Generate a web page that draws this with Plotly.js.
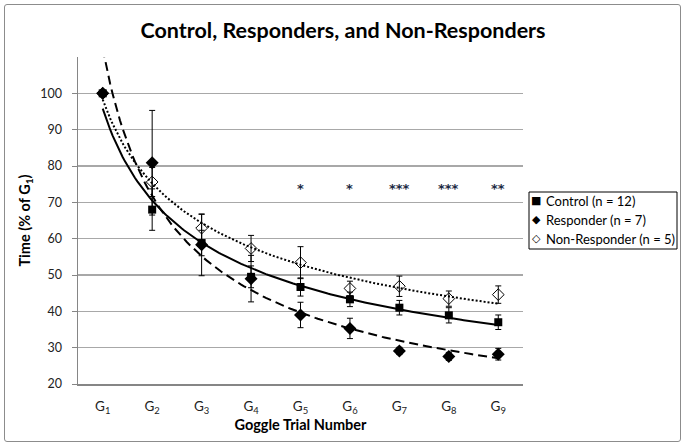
<!DOCTYPE html>
<html>
<head>
<meta charset="utf-8">
<script src="https://cdn.plot.ly/plotly-3.0.1.min.js"></script>
<style>
  html, body { margin: 0; padding: 0; background: #fff; }
  #wrap { position: relative; width: 686px; height: 447px; }
  #chart { width: 686px; height: 447px; }
  #frame { position: absolute; left: 4px; top: 4px; width: 677px; height: 438px;
           border: 1px solid #8c8c8c; border-radius: 3px; pointer-events: none; box-sizing: border-box; }
</style>
</head>
<body>
<div id="wrap"><div id="chart"></div><div id="frame"></div></div>
<script>
// ---- data ----
const trials = [1, 2, 3, 4, 5, 6, 7, 8, 9];
const trialLabels = ['G<sub>1</sub>', 'G<sub>2</sub>', 'G<sub>3</sub>', 'G<sub>4</sub>', 'G<sub>5</sub>',
                     'G<sub>6</sub>', 'G<sub>7</sub>', 'G<sub>8</sub>', 'G<sub>9</sub>'];

const seriesNames = ['Control (n = 12)', 'Responder (n = 7)', 'Non-Responder (n = 5)'];
const legendGlyphs = ['\u25A0', '\u25C6', '\u25C7'];

const control      = [100, 68.0, 58.8, 49.5, 46.7, 43.3, 41.0, 38.9, 37.0];
const controlErr   = [0, 5.7, 3.5, 3.0, 2.5, 2.0, 2.0, 2.1, 2.0];
const responder    = [100, 80.9, 58.3, 49.0, 39.0, 35.3, 29.1, 27.6, 28.2];
const responderErr = [0, 14.4, 8.5, 6.4, 3.5, 2.8, 1.0, 1.1, 1.6];
const nonResp      = [100, 75.6, 62.9, 57.3, 53.4, 46.3, 46.9, 43.5, 44.6];
const nonRespErr   = [0, 4.0, 3.8, 3.6, 4.4, 2.0, 2.8, 2.1, 2.4];

const sigLabels = ['', '', '', '', '*', '*', '***', '***', '**'];
const sigLevel = 75;

// ---- power trendlines (least squares on log-log, like a spreadsheet power trendline) ----
function powerFit(xs, ys) {
  const lx = xs.map(Math.log), ly = ys.map(Math.log);
  const n = xs.length;
  const mx = lx.reduce((a, b) => a + b, 0) / n;
  const my = ly.reduce((a, b) => a + b, 0) / n;
  let sxy = 0, sxx = 0;
  for (let i = 0; i < n; i++) { sxy += (lx[i] - mx) * (ly[i] - my); sxx += (lx[i] - mx) ** 2; }
  const b = sxy / sxx;
  const a = Math.exp(my - b * mx);
  return x => a * Math.pow(x, b);
}
function trend(ys) {
  const f = powerFit(trials, ys);
  const xs = [], out = [];
  const x0 = trials[0], x1 = trials[trials.length - 1];
  for (let i = 0; i <= 160; i++) { const x = x0 + (x1 - x0) * i / 160; xs.push(x); out.push(f(x)); }
  return { xs, out };
}
const tC = trend(control), tR = trend(responder), tN = trend(nonResp);

const FONT = 'Lato, "Open Sans", "DejaVu Sans", sans-serif';
const errStyle = (arr) => ({ type: 'data', array: arr, visible: true, color: '#000', thickness: 1, width: 3 });

const traces = [
  { x: tC.xs, y: tC.out, mode: 'lines', line: { color: '#000', width: 2 }, showlegend: false, hoverinfo: 'skip' },
  { x: tR.xs, y: tR.out, mode: 'lines', line: { color: '#000', width: 2, dash: '9px,5px' }, showlegend: false, hoverinfo: 'skip' },
  { x: tN.xs, y: tN.out, mode: 'lines', line: { color: '#000', width: 2, dash: '2px,2px' }, showlegend: false, hoverinfo: 'skip' },
  { x: trials, y: nonResp, name: seriesNames[2], mode: 'markers', error_y: errStyle(nonRespErr),
    marker: { symbol: 'diamond-open', size: 9, color: '#000', line: { width: 1, color: '#000' } }, showlegend: false },
  { x: trials, y: control, name: seriesNames[0], mode: 'markers', error_y: errStyle(controlErr),
    marker: { symbol: 'square', size: 8, color: '#000' }, showlegend: false },
  { x: trials, y: responder, name: seriesNames[1], mode: 'markers', error_y: errStyle(responderErr),
    marker: { symbol: 'diamond', size: 10, color: '#000' }, showlegend: false }
];

// legend built as a bordered box with text entries
const plotL = 78, plotR = 523, plotT = 57, plotB = 384;
const pw = plotR - plotL, ph = plotB - plotT;
const px = v => (v - plotL) / pw, py = v => (plotB - v) / ph;
const legendRows = [200.5, 219.5, 238.5];
const annotations = [];
seriesNames.forEach((name, i) => {
  annotations.push({ xref: 'paper', yref: 'paper', x: px(536), y: py(legendRows[i]), xanchor: 'center', yanchor: 'middle',
    text: legendGlyphs[i], showarrow: false, font: { family: '"DejaVu Sans", sans-serif', size: 11, color: '#000' } });
  annotations.push({ xref: 'paper', yref: 'paper', x: px(544), y: py(legendRows[i]), xanchor: 'left', yanchor: 'middle',
    text: name, showarrow: false, font: { family: FONT, size: 13, color: '#000' } });
});
// significance stars
trials.forEach((t, i) => {
  if (!sigLabels[i]) return;
  annotations.push({ xref: 'x', yref: 'y', x: t, y: sigLevel, xanchor: 'center', yanchor: 'middle', yshift: -4,
    text: '<b>' + sigLabels[i] + '</b>', showarrow: false,
    font: { family: '"DejaVu Sans", sans-serif', size: 13, color: '#1c2a44' } });
});

const layout = {
  width: 686, height: 447,
  margin: { l: plotL, r: 686 - plotR, t: plotT, b: 447 - plotB },
  paper_bgcolor: '#fff', plot_bgcolor: '#fff',
  font: { family: FONT, color: '#000' },
  title: { text: '<b>Control, Responders, and Non-Responders</b>', xref: 'container', x: 0.5, xanchor: 'center',
           yref: 'container', y: 1 - 30 / 447, yanchor: 'middle', font: { family: FONT, size: 21.5, color: '#000' } },
  xaxis: {
    range: [0.5, 9.5], tickmode: 'array', tickvals: trials, ticktext: trialLabels,
    showgrid: false, zeroline: false, showline: true, linecolor: '#868686', linewidth: 1.5,
    ticks: '', tickfont: { family: FONT, size: 13.5, color: '#222' }, ticklabelstandoff: 9,
    title: { text: '<b>Goggle Trial Number</b>', font: { family: FONT, size: 14.5, color: '#000' }, standoff: 5 },
    fixedrange: true
  },
  yaxis: {
    range: [20, 110], tickmode: 'array', tickvals: [20, 30, 40, 50, 60, 70, 80, 90, 100],
    showgrid: true, gridcolor: '#a8a8a8', gridwidth: 1.5, zeroline: false,
    showline: true, linecolor: '#868686', linewidth: 1.5,
    ticks: 'outside', ticklen: 5, tickcolor: '#868686', tickwidth: 1,
    tickfont: { family: FONT, size: 12.5, color: '#222' }, ticklabelstandoff: 7,
    title: { text: '<b>Time (% of G<sub>1</sub>)</b>', font: { family: FONT, size: 14.5, color: '#000' }, standoff: 6 },
    fixedrange: true
  },
  shapes: [
    { type: 'rect', xref: 'paper', yref: 'paper', x0: px(529), x1: px(677), y0: py(249), y1: py(192),
      line: { color: '#000', width: 1 }, fillcolor: 'rgba(0,0,0,0)' }
  ],
  annotations: annotations,
  showlegend: false
};

Plotly.newPlot('chart', traces, layout, { displayModeBar: false, staticPlot: true });
</script>
</body>
</html>
